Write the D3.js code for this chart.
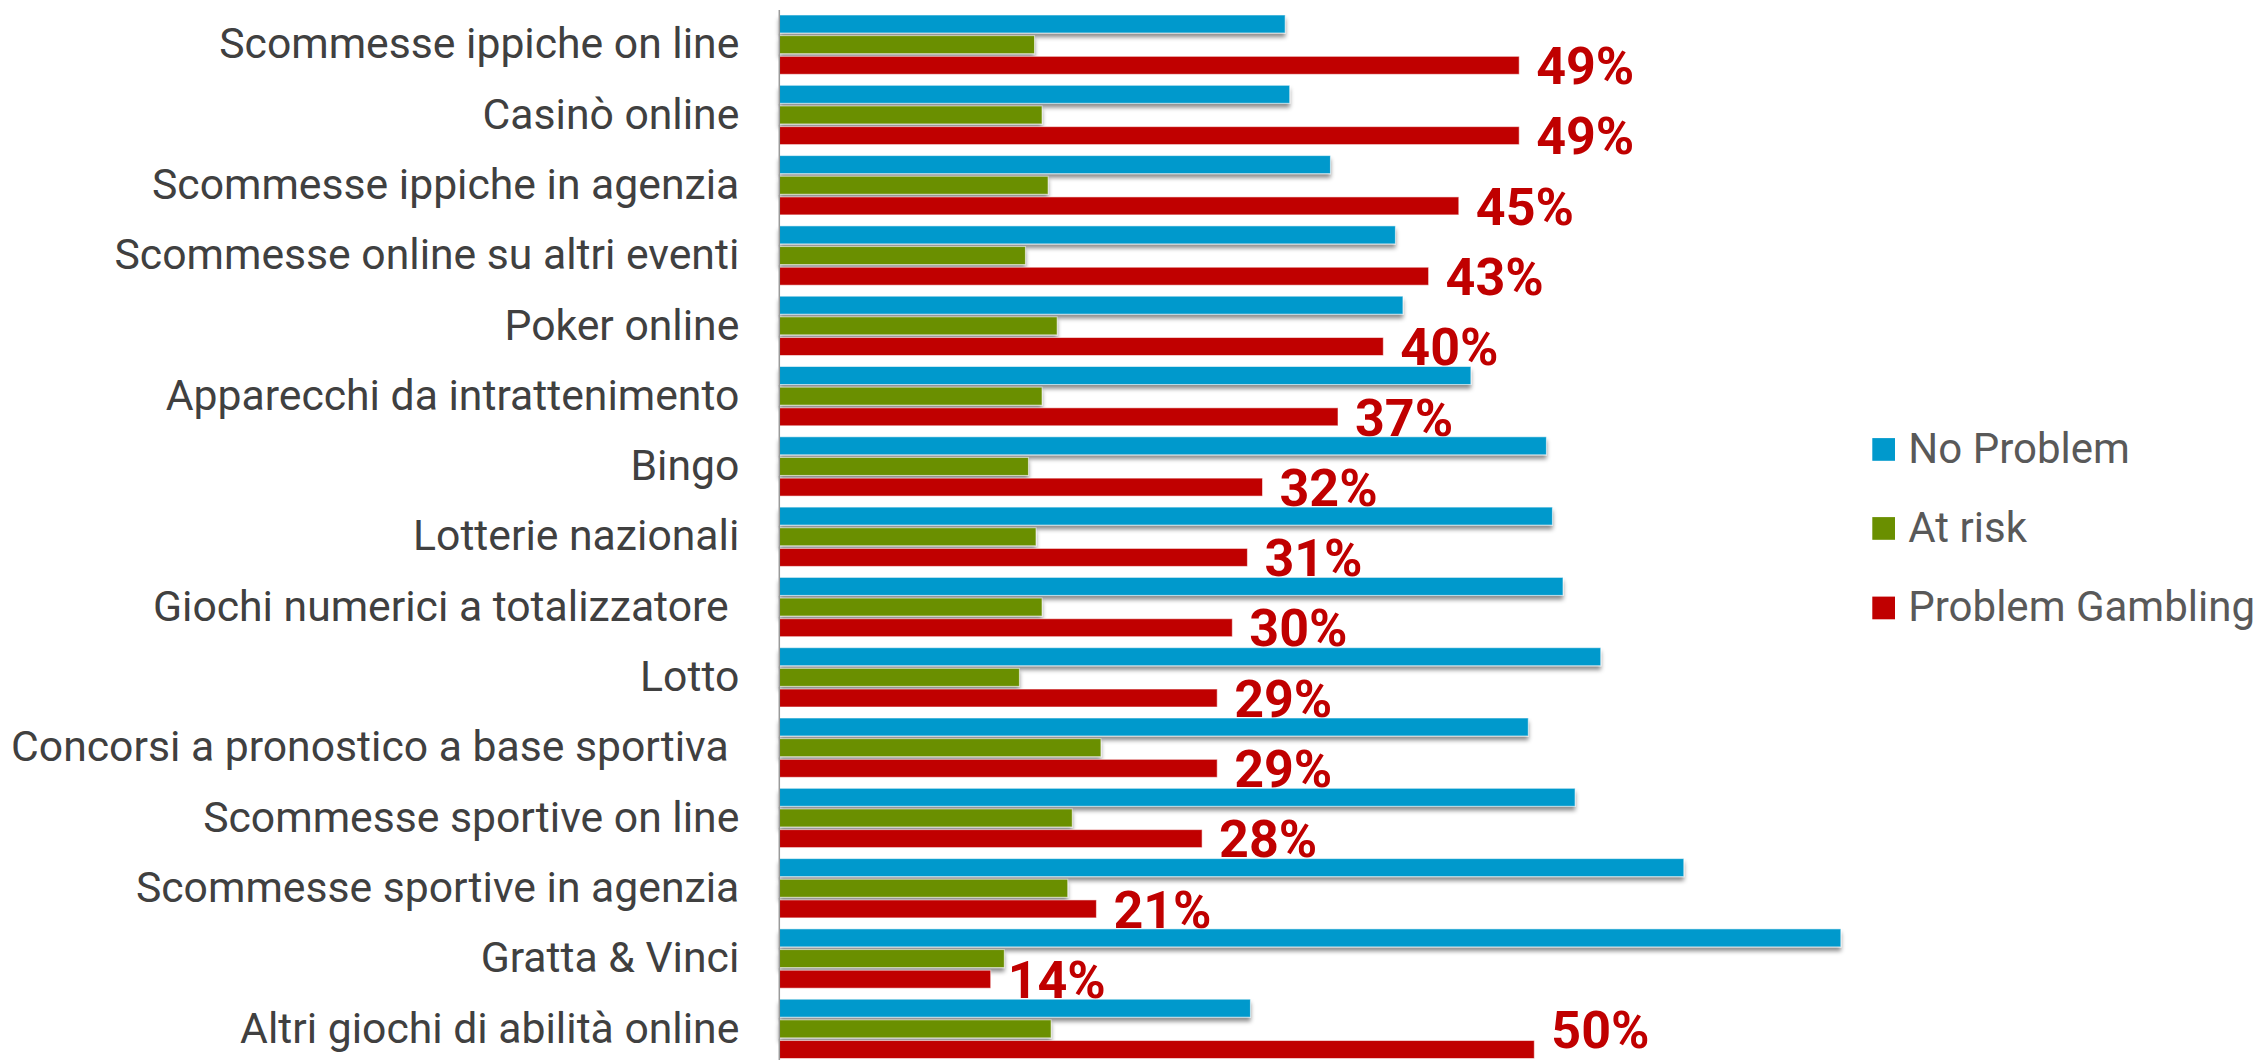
<!DOCTYPE html>
<html>
<head>
<meta charset="utf-8">
<script src="https://cdn.jsdelivr.net/npm/d3@7"></script>
<style>
  html, body { margin: 0; padding: 0; background: #fff; }
  svg { display: block; font-family: Roboto, "Noto Sans", sans-serif; }
</style>
</head>
<body>
<svg id="chart" width="2262" height="1060"></svg>
<script>
// Gaming categories, top to bottom
const categories = [
  "Scommesse ippiche on line",
  "Casinò online",
  "Scommesse ippiche in agenzia",
  "Scommesse online su altri eventi",
  "Poker online",
  "Apparecchi da intrattenimento",
  "Bingo",
  "Lotterie nazionali",
  "Giochi numerici a totalizzatore ",
  "Lotto",
  "Concorsi a pronostico a base sportiva ",
  "Scommesse sportive on line",
  "Scommesse sportive in agenzia",
  "Gratta & Vinci",
  "Altri giochi di abilità online"
];

const seriesNames = ["No Problem", "At risk", "Problem Gambling"];

// Share of players (%) in each gambler profile
const noProblem = [33.5, 33.8, 36.5, 40.8, 41.3, 45.8, 50.8, 51.2, 51.9, 54.4, 49.6, 52.7, 59.9, 70.3, 31.2];
const atRisk    = [16.9, 17.4, 17.8, 16.3, 18.4, 17.4, 16.5, 17.0, 17.4, 15.9, 21.3, 19.4, 19.1, 14.9, 18.0];
const problemGambling = [49, 49, 45, 43, 40, 37, 32, 31, 30, 29, 29, 28, 21, 14, 50];

const colors = ["#0099CC", "#6A8F00", "#C00000"];

const W = 2262, H = 1060;
const svg = d3.select("#chart");

const axisX = 779.3;
const x = d3.scaleLinear().domain([0, 100]).range([axisX, axisX + 1510]);

const y0 = d3.scaleBand()
  .domain(categories)
  .range([15, 1058.5])
  .paddingInner(0.1565)
  .paddingOuter(0);

const y1 = d3.scaleBand()
  .domain(seriesNames)
  .range([0, y0.bandwidth()])
  .paddingInner(0.13);

// soft drop shadow under the bars
const defs = svg.append("defs");
const f = defs.append("filter").attr("id", "shadow")
  .attr("x", "-5%").attr("y", "-50%").attr("width", "110%").attr("height", "250%");
f.append("feGaussianBlur").attr("in", "SourceAlpha").attr("stdDeviation", 2.2).attr("result", "b");
f.append("feOffset").attr("in", "b").attr("dx", 0).attr("dy", 4).attr("result", "o");
f.append("feFlood").attr("flood-color", "#000").attr("flood-opacity", 0.45).attr("result", "c");
f.append("feComposite").attr("in", "c").attr("in2", "o").attr("operator", "in").attr("result", "s");
const m = f.append("feMerge");
m.append("feMergeNode").attr("in", "s");
m.append("feMergeNode").attr("in", "SourceGraphic");

const rows = categories.map((c, i) => ({
  cat: c,
  vals: [noProblem[i], atRisk[i], problemGambling[i]]
}));

const groups = svg.append("g").selectAll("g")
  .data(rows)
  .join("g")
  .attr("transform", d => `translate(0,${y0(d.cat)})`);

groups.selectAll("rect")
  .data(d => d.vals.map((v, k) => ({ key: seriesNames[k], v, k })))
  .join("rect")
  .attr("x", x(0))
  .attr("y", d => y1(d.key))
  .attr("width", d => x(d.v) - x(0))
  .attr("height", y1.bandwidth())
  .attr("fill", d => colors[d.k])
  .attr("stroke", "rgba(255,255,255,0.55)")
  .attr("stroke-width", 1)
  .attr("filter", d => d.k < 2 ? "url(#shadow)" : null);

// value labels on the Problem Gambling bars, kept inside the drawing area
const labelSize = 52;
groups.append("text")
  .attr("x", d => x(d.vals[2]) + 17)
  .attr("y", d => {
    const base = y1("Problem Gambling") + y1.bandwidth() / 2 + 0.36 * labelSize;
    return Math.min(base, H - 0.24 * labelSize - y0(d.cat));
  })
  .attr("fill", "#C00000")
  .attr("font-size", labelSize)
  .attr("font-weight", 700)
  .text(d => d3.format(".0f")(d.vals[2]) + "%");

// category axis
const axis = svg.append("g")
  .attr("transform", `translate(${axisX},0)`)
  .call(d3.axisLeft(y0).tickSize(0).tickPadding(40));
axis.select(".domain").remove();
axis.selectAll("text")
  .attr("font-size", 42.7)
  .attr("font-family", "Roboto, sans-serif")
  .attr("fill", "#404040")
  .style("white-space", "pre");

svg.append("line")
  .attr("x1", axisX).attr("x2", axisX)
  .attr("y1", 10).attr("y2", H)
  .attr("stroke", "#9a9a9a")
  .attr("stroke-width", 1.5);

// legend
const legendY = [449.5, 528.5, 608];
const legend = svg.append("g").selectAll("g")
  .data(seriesNames)
  .join("g")
  .attr("transform", (d, i) => `translate(1872.3,${legendY[i]})`);
legend.append("rect")
  .attr("x", 0).attr("y", -11.4)
  .attr("width", 22.7).attr("height", 22.7)
  .attr("fill", (d, i) => colors[i]);
legend.append("text")
  .attr("x", 36)
  .attr("dy", "0.32em")
  .attr("font-size", 42)
  .attr("fill", "#595959")
  .text(d => d);
</script>
</body>
</html>
